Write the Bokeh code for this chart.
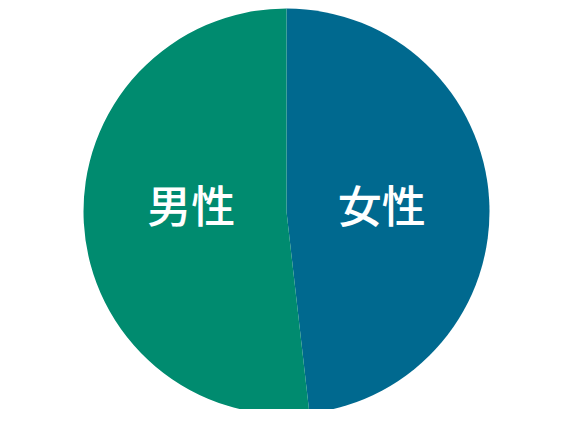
import math
from bokeh.plotting import figure
from bokeh.models import Range1d, ColumnDataSource
from bokeh.core.properties import value
from bokeh.embed import file_html
from bokeh.resources import INLINE

labels = ["女性", "男性"]
shares = [48.2, 51.8]
colors = ["#00698f", "#008b6f"]

W, H = 551, 409
cx, cy, r = 286, 198, 203

p = figure(width=W, height=H, output_backend="svg", toolbar_location=None,
           x_range=Range1d(0, W), y_range=Range1d(0, H), min_border=0)
p.axis.visible = False
p.grid.visible = False
p.outline_line_color = None
p.background_fill_color = "white"
p.border_fill_color = "white"

total = sum(shares)
start = math.pi / 2
starts, ends, lx, ly = [], [], [], []
for s in shares:
    span = 2 * math.pi * s / total
    end = start - span
    starts.append(start)
    ends.append(end)
    mid = (start + end) / 2
    lx.append(cx + 0.47 * r * math.cos(mid))
    ly.append(cy + 8)
    start = end

src = ColumnDataSource(dict(start=starts, end=ends, color=colors, label=labels, lx=lx, ly=ly))
p.wedge(x=cx, y=cy, radius=r, start_angle="start", end_angle="end", direction="clock",
        fill_color="color", line_color=None, source=src)
p.text(x="lx", y="ly", text="label", source=src, text_color="white",
       text_font=value("Noto Sans CJK JP Medium"), text_font_size="44px",
       text_align="center", text_baseline="middle")

open("out.html", "w").write(file_html(p, INLINE))
